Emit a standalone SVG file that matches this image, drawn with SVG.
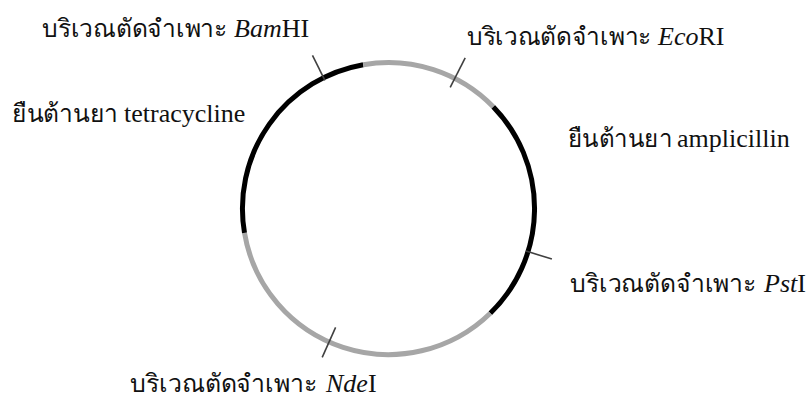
<svg xmlns="http://www.w3.org/2000/svg" width="809" height="398" viewBox="0 0 809 398">
<style>
.lbl{font-family:"Liberation Serif","Times New Roman",serif;font-size:26px;fill:#111}
.th{font-size:25px}
.it{font-style:italic}
.blk{fill:none;stroke:#000;stroke-width:5}
.gry{fill:none;stroke:#a6a6a6;stroke-width:5}
.tick{stroke:#404040;stroke-width:1.6;fill:none}
</style>
<rect width="809" height="398" fill="#fff"/>
<g id="plasmid">
<path class="blk" d="M493.2,106.7 A146,146 0 0 1 490.3,313.2"/>
<path class="gry" d="M490.3,313.2 A146,146 0 0 1 244.5,232.9"/>
<path class="blk" d="M244.5,232.9 A146,146 0 0 1 363.2,64.7"/>
<path class="gry" d="M363.2,64.7 A146,146 0 0 1 493.2,106.7"/>
</g>
<g id="connectors">
<line class="tick" x1="324.9" y1="80.4" x2="312.5" y2="55.3"/>
<line class="tick" x1="450.2" y1="87.3" x2="465.2" y2="57.9"/>
<line class="tick" x1="526.1" y1="251.1" x2="551.9" y2="259.1"/>
<line class="tick" x1="335.6" y1="327.3" x2="322.2" y2="357.4"/>
</g>
<g id="bamhi">
<text class="lbl" y="37"><tspan x="42" class="th" textLength="185" lengthAdjust="spacingAndGlyphs">บริเวณตัดจำเพาะ</tspan><tspan x="234" class="it">Bam</tspan>HI</text>
</g>
<g id="tetracycline">
<text class="lbl" y="122"><tspan x="12" class="th" textLength="106" lengthAdjust="spacingAndGlyphs">ยืนต้านยา</tspan><tspan x="124">tetracycline</tspan></text>
</g>
<g id="ecori">
<text class="lbl" y="45"><tspan x="467" class="th" textLength="184" lengthAdjust="spacingAndGlyphs">บริเวณตัดจำเพาะ</tspan><tspan x="658" class="it">Eco</tspan>RI</text>
</g>
<g id="ampicillin">
<text class="lbl" y="147"><tspan x="568" class="th" textLength="104" lengthAdjust="spacingAndGlyphs">ยืนต้านยา</tspan><tspan x="677">amplicillin</tspan></text>
</g>
<g id="psti">
<text class="lbl" y="292"><tspan x="570" class="th" textLength="186" lengthAdjust="spacingAndGlyphs">บริเวณตัดจำเพาะ</tspan><tspan x="764" class="it">Pst</tspan>I</text>
</g>
<g id="ndei">
<text class="lbl" y="392"><tspan x="130" class="th" textLength="187" lengthAdjust="spacingAndGlyphs">บริเวณตัดจำเพาะ</tspan><tspan x="326" class="it">Nde</tspan>I</text>
</g>
</svg>
